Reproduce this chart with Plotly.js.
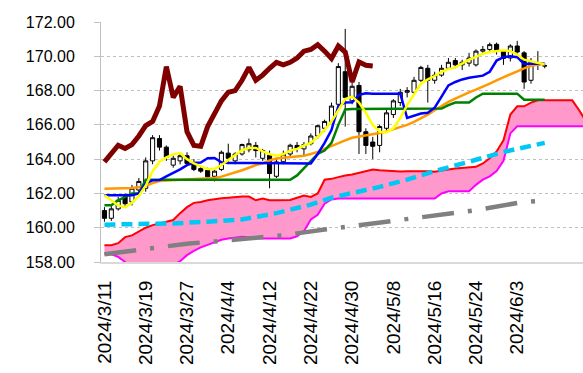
<!DOCTYPE html>
<html>
<head>
<meta charset="utf-8">
<script src="https://cdn.plot.ly/plotly-3.0.1.min.js"></script>
<style>html,body{margin:0;padding:0;background:#fff;}#chart{width:583px;height:373px;}</style>
</head>
<body>
<div id="chart"></div>
<script>
// trading days (category axis), including future days for the leading cloud
const dates = ['2024/3/11','2024/3/12','2024/3/13','2024/3/14','2024/3/15','2024/3/18','2024/3/19','2024/3/20','2024/3/21','2024/3/22','2024/3/25','2024/3/26','2024/3/27','2024/3/28','2024/3/29','2024/4/1','2024/4/2','2024/4/3','2024/4/4','2024/4/5','2024/4/8','2024/4/9','2024/4/10','2024/4/11','2024/4/12','2024/4/15','2024/4/16','2024/4/17','2024/4/18','2024/4/19','2024/4/22','2024/4/23','2024/4/24','2024/4/25','2024/4/26','2024/4/29','2024/4/30','2024/5/1','2024/5/2','2024/5/3','2024/5/6','2024/5/7','2024/5/8','2024/5/9','2024/5/10','2024/5/13','2024/5/14','2024/5/15','2024/5/16','2024/5/17','2024/5/20','2024/5/21','2024/5/22','2024/5/23','2024/5/24','2024/5/27','2024/5/28','2024/5/29','2024/5/30','2024/5/31','2024/6/3','2024/6/4','2024/6/5','2024/6/6','2024/6/7','2024/6/10','2024/6/11','2024/6/12','2024/6/13','2024/6/14','2024/6/17'];
const tickLabels = ['2024/3/11','2024/3/19','2024/3/27','2024/4/4','2024/4/12','2024/4/22','2024/4/30','2024/5/8','2024/5/16','2024/5/24','2024/6/3'];

// candles
const open  = [161.0,160.55,161.1,161.8,161.5,162.2,162.3,163.9,165.2,164.7,163.65,163.9,164.2,163.8,163.45,163.35,163.0,163.4,164.35,163.9,164.3,164.55,164.8,164.05,164.23,163.0,163.85,164.3,164.8,164.6,164.9,165.35,165.8,166.2,167.2,169.1,167.4,168.3,165.6,165.0,164.8,165.8,166.6,167.3,167.9,167.9,168.6,169.3,168.6,168.9,169.3,169.75,169.5,169.6,169.5,170.3,170.4,170.7,170.3,169.9,170.6,170.2,168.6,169.6,169.45];
const high  = [161.2,161.3,161.8,162.0,162.5,162.9,164.1,165.4,165.4,164.8,164.2,164.4,164.4,164.0,163.6,163.5,163.4,164.5,164.9,164.4,164.9,165.2,165.0,164.6,164.5,164.0,164.5,164.9,165.0,165.0,165.5,166.0,166.3,167.3,169.6,171.6,168.5,168.5,165.8,165.3,166.0,166.9,167.5,168.1,168.2,168.8,169.45,169.5,169.1,169.5,169.9,169.9,169.8,170.2,170.4,170.6,170.8,170.8,170.4,170.7,170.9,170.3,169.9,170.3,169.6];
const low   = [160.35,160.4,161.0,161.2,161.3,162.0,162.1,163.7,164.5,163.9,163.5,163.7,163.6,163.3,163.2,162.9,162.7,163.3,163.8,163.7,164.2,164.4,164.1,163.9,162.3,162.9,163.7,164.1,164.4,164.2,164.8,165.2,165.6,166.1,167.0,165.9,167.2,164.3,164.3,164.0,164.4,165.7,166.4,167.1,167.6,167.8,168.5,167.3,168.4,168.8,169.2,169.3,169.2,169.4,169.4,170.1,170.2,170.1,169.5,169.7,169.9,168.1,168.4,169.2,169.3];
const close = [160.55,161.1,161.6,161.4,162.3,162.7,163.9,165.25,164.7,164.1,164.05,164.2,163.75,163.4,163.3,162.97,163.3,164.4,164.05,164.3,164.85,164.9,164.5,164.5,163.16,163.84,164.3,164.81,164.62,164.85,165.35,165.95,166.2,167.1,169.4,167.6,168.25,165.6,164.8,164.75,165.9,166.7,167.4,167.9,168.0,168.6,169.35,168.6,168.9,169.3,169.65,169.5,169.65,169.9,170.3,170.4,170.68,170.3,169.87,170.6,170.25,168.5,169.67,169.48,169.44];

// lines
const blueLine   = [161.9,161.9,161.9,161.9,161.9,162.0,162.6,162.77,162.78,163.0,163.2,163.4,163.65,163.78,163.8,164.05,164.07,163.82,163.78,163.78,163.78,163.78,163.78,163.78,163.78,163.78,163.78,163.78,163.78,163.78,163.75,164.3,164.95,165.7,167.1,167.3,167.32,167.75,167.84,167.82,167.82,167.82,167.82,167.82,166.4,166.55,166.66,166.7,167.0,167.65,168.3,168.5,168.65,168.75,168.8,168.87,169.1,169.75,169.95,170.0,169.95,169.55,169.57,169.57,169.57];
const greenLine  = [161.31,161.31,161.6,161.8,162.0,162.0,162.8,162.8,162.8,162.8,162.8,162.8,162.8,162.8,162.8,162.8,162.8,162.8,162.8,162.8,162.8,162.8,162.8,162.8,162.8,162.8,162.8,162.8,163.05,163.45,163.9,164.3,164.5,164.95,166.0,166.9,166.92,166.92,166.92,166.92,166.92,166.92,166.92,166.92,166.92,166.92,166.92,166.92,166.92,166.95,167.15,167.3,167.3,167.3,167.6,167.82,167.82,167.82,167.82,167.82,167.82,167.47,167.47,167.47,167.47];
const yellowLine = [161.9,161.6,161.3,161.2,161.45,161.85,162.45,163.3,163.85,164.1,164.28,164.35,164.0,163.75,163.58,163.42,163.42,163.65,163.95,164.25,164.52,164.65,164.65,164.45,164.3,164.2,164.3,164.5,164.6,164.8,164.95,165.3,165.7,166.2,166.85,167.5,167.65,167.3,166.7,166.0,165.6,165.55,165.8,166.4,167.15,167.8,168.4,168.65,168.85,169.1,169.25,169.35,169.6,169.8,169.96,170.15,170.25,170.32,170.35,170.3,170.1,169.8,169.72,169.63,169.52];
const orangeLine = [162.28,162.28,162.29,162.3,162.31,162.36,162.45,162.6,162.72,162.75,162.77,162.8,162.83,162.85,162.86,162.86,162.9,162.98,163.1,163.2,163.35,163.5,163.65,163.75,163.92,164.04,164.08,164.1,164.12,164.2,164.3,164.42,164.6,164.78,164.95,165.1,165.25,165.32,165.37,165.42,165.52,165.62,165.75,165.88,166.0,166.18,166.38,166.6,166.85,167.1,167.34,167.53,167.72,167.9,168.05,168.25,168.41,168.6,168.78,168.95,169.15,169.3,169.45,169.52,169.57];
const laggingLine = [163.84,164.3,164.81,164.62,164.85,165.35,165.95,166.2,167.1,169.4,167.6,168.25,165.6,164.8,164.75,165.9,166.7,167.4,167.9,168.0,168.6,169.35,168.6,168.9,169.3,169.65,169.5,169.65,169.9,170.3,170.4,170.68,170.3,169.87,170.6,170.25,168.5,169.67,169.48,169.44];
const spanA = [158.98,158.98,159.1,159.45,159.55,159.8,160.0,160.15,160.25,160.35,160.45,160.85,161.2,161.45,161.5,161.6,161.67,161.72,161.75,161.8,161.82,161.82,161.6,161.7,161.6,161.6,161.6,161.62,161.75,161.88,161.8,162.0,162.8,162.85,162.95,163.05,163.1,163.2,163.28,163.4,163.35,163.32,163.3,163.28,163.3,163.3,163.32,163.3,163.27,163.35,163.4,163.45,163.48,163.5,163.55,163.75,164.05,164.45,165.1,166.6,167.08,167.08,167.3,167.43,167.43,167.43,167.43,167.43,167.43,166.85,166.2];
const spanB = [158.45,158.45,158.3,158.0,157.6,157.5,157.5,157.5,157.5,157.6,157.8,158.05,158.4,158.65,158.85,159.0,159.15,159.3,159.37,159.43,159.47,159.45,159.38,159.37,159.37,159.37,159.37,159.37,159.5,159.8,160.48,160.75,161.4,161.65,161.7,161.7,161.7,161.7,161.7,161.7,161.7,161.7,161.7,161.7,161.7,161.7,161.7,161.7,161.7,162.0,162.13,162.13,162.13,162.13,162.5,162.8,163.0,163.3,163.9,165.5,165.92,165.92,165.92,165.92,165.92,165.92,165.92,165.92,165.92,165.92,165.92];
// long moving averages read at sample days
const cyanDays  = [0,6,10,15,20,25,30,33,37,40,44,48,53,58,64];
const cyanVals  = [160.18,160.2,160.25,160.35,160.48,160.85,161.35,161.75,162.1,162.38,162.8,163.3,163.85,164.42,164.95];
const grayDays  = [0,7,12,16,21,26,32,38,42,44,51,54,61,63];
const grayVals  = [158.45,158.84,159.07,159.2,159.37,159.56,159.89,160.2,160.4,160.54,160.92,161.02,161.51,161.56];

const candleX = dates.slice(0, close.length);
const pick = idx => idx.map(i => dates[i]);
const line = (y, x, color, width, dash) => ({type:'scatter', mode:'lines', x:x, y:y, line:{color:color, width:width, dash:dash||'solid'}, hoverinfo:'skip', showlegend:false});

const traces = [
  line(spanB, dates, '#ff00ff', 2),
  Object.assign(line(spanA, dates, '#ff0000', 2), {fill:'tonexty', fillcolor:'#ff99cc'}),
  line(cyanVals, pick(cyanDays), '#00c8f5', 4.5, '11px,6px'),
  line(grayVals, pick(grayDays), '#808080', 4.5, '32px,14px,4px,14px'),
  {type:'candlestick', x:candleX, open:open, high:high, low:low, close:close,
   increasing:{line:{color:'#000000', width:1}, fillcolor:'#ffffff'},
   decreasing:{line:{color:'#000000', width:1}, fillcolor:'#000000'},
   whiskerwidth:0, showlegend:false, hoverinfo:'skip'},
  line(orangeLine, candleX, '#ff9900', 2.5),
  line(greenLine, candleX, '#008000', 2.5),
  line(blueLine, candleX, '#0000ff', 2.5),
  line(yellowLine, candleX, '#ffff00', 2.5),
  line(laggingLine, dates.slice(0, laggingLine.length), '#800000', 5)
];

const layout = {
  width:583, height:373,
  margin:{l:101, r:0, t:22, b:111, pad:0},
  paper_bgcolor:'#ffffff', plot_bgcolor:'#ffffff',
  font:{family:'Liberation Sans, Arial, sans-serif', color:'#000000'},
  showlegend:false,
  boxgap:0.15,
  xaxis:{type:'category', categoryorder:'array', categoryarray:dates,
    range:[-0.5, 69.56], tickmode:'array', tickvals:tickLabels, ticktext:tickLabels,
    tickangle:-90, tickfont:{size:19}, showgrid:false, zeroline:false,
    showline:true, linecolor:'#d9d9d9', linewidth:2, ticks:'', ticklabelstandoff:9,
    rangeslider:{visible:false}, fixedrange:true},
  yaxis:{range:[158,172], tick0:158, dtick:2, tickformat:'.2f',
    tickfont:{size:16}, showgrid:true, gridcolor:'#c0c0c0', griddash:'dot', gridwidth:1,
    zeroline:false, showline:true, linecolor:'#c0c0c0', linewidth:1,
    ticks:'outside', ticklen:6, tickcolor:'#c0c0c0', ticklabelstandoff:16, fixedrange:true}
};

Plotly.newPlot('chart', traces, layout, {displayModeBar:false, staticPlot:true});
</script>
</body>
</html>
